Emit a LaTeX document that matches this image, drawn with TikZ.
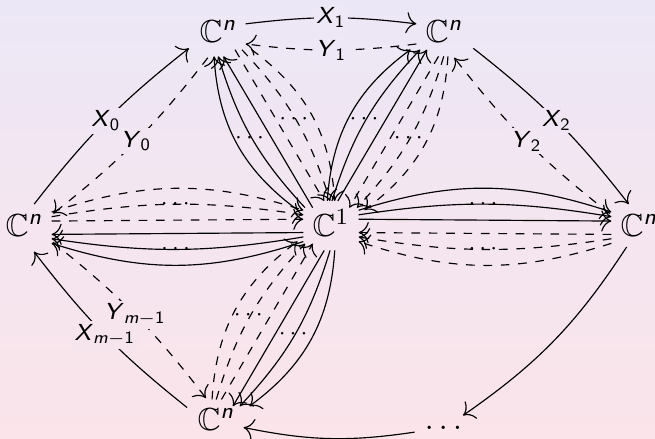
\documentclass[tikz,border=0pt]{standalone}
\usepackage{amsmath,amssymb}
\usetikzlibrary{arrows.meta}
\definecolor{bgtop}{RGB}{236,231,246}
\definecolor{bgbot}{RGB}{251,228,234}
\newcommand{\sfi}[1]{\textsf{\textit{#1}}}
\begin{document}
\begin{tikzpicture}[x=0.345pt,y=-0.345pt,
  vx/.style={anchor=base, font=\fontsize{11}{13}\selectfont, inner xsep=3pt, inner ysep=1.6pt, text depth=2pt},
  lab/.style={font=\fontsize{8}{9.6}\selectfont, inner sep=1pt, fill=bgtop!#1!bgbot},
  dd/.style={font=\fontsize{8}{9.6}\selectfont, inner sep=0pt},
  ar/.style={-{Computer Modern Rightarrow[scale=1.4]}},
  da/.style={ar, dashed},
  sh/.style={transform canvas={shift={(#1:2.3pt)}}}]
\shade[top color=bgtop, bottom color=bgbot] (0,0) rectangle (655,438);
\useasboundingbox (0,0) rectangle (655,438);
% vertices
\node[vx] (c)  at (331,236) {$\mathbb{C}^1$};
\node[vx] (tl) at (218,42)  {$\mathbb{C}^{\sfi{n}}$};
\node[vx] (tr) at (444,42)  {$\mathbb{C}^{\sfi{n}}$};
\node[vx] (l)  at (24,236)  {$\mathbb{C}^{\sfi{n}}$};
\node[vx] (r)  at (639,236) {$\mathbb{C}^{\sfi{n}}$};
\node[vx] (b)  at (216,430) {$\mathbb{C}^{\sfi{n}}$};
\node[anchor=base, font=\fontsize{11}{13}\selectfont] (dots) at (446,429) {$\dots$};
% spokes: top left
\draw[ar, sh=210.2] (c) to (tl);
\draw[ar, sh=210.2] (c) to[bend left=13] node[dd]{$\cdots$} (tl);
\draw[ar, sh=210.2] (c) to[bend left=25] (tl);
\draw[da, sh=30.2] (tl) to (c);
\draw[da, sh=30.2] (tl) to[bend left=13] node[dd]{$\cdots$} (c);
\draw[da, sh=30.2] (tl) to[bend left=25] (c);
% spokes: top right
\draw[ar, sh=149.8] (c) to (tr);
\draw[ar, sh=149.8] (c) to[bend left=13] node[dd]{$\cdots$} (tr);
\draw[ar, sh=149.8] (c) to[bend left=25] (tr);
\draw[da, sh=-30.2] (tr) to (c);
\draw[da, sh=-30.2] (tr) to[bend left=13] node[dd]{$\cdots$} (c);
\draw[da, sh=-30.2] (tr) to[bend left=25] (c);
% spokes: left
\draw[ar, sh=270] (c) to (l);
\draw[ar, sh=270] (c) to[bend left=9] node[dd]{$\cdots$} (l);
\draw[ar, sh=270] (c) to[bend left=18] (l);
\draw[da, sh=90] (l) to (c);
\draw[da, sh=90] (l) to[bend left=9] node[dd]{$\cdots$} (c);
\draw[da, sh=90] (l) to[bend left=18] (c);
% spokes: right
\draw[ar, sh=90] (c) to (r);
\draw[ar, sh=90] (c) to[bend left=9] node[dd]{$\cdots$} (r);
\draw[ar, sh=90] (c) to[bend left=18] (r);
\draw[da, sh=270] (r) to (c);
\draw[da, sh=270] (r) to[bend left=9] node[dd]{$\cdots$} (c);
\draw[da, sh=270] (r) to[bend left=18] (c);
% spokes: bottom
\draw[ar, sh=329.45] (c) to (b);
\draw[ar, sh=329.45] (c) to[bend left=13] node[dd]{$\cdots$} (b);
\draw[ar, sh=329.45] (c) to[bend left=25] (b);
\draw[da, sh=149.45] (b) to (c);
\draw[da, sh=149.45] (b) to[bend left=13] node[dd]{$\cdots$} (c);
\draw[da, sh=149.45] (b) to[bend left=25] (c);
% ring
\draw[ar, sh=135] (l) to[bend left=7] node[lab=73]{$\sfi{X}_{\textsf{0}}$} (tl);
\draw[da, sh=-45] (tl) to[bend left=7] node[lab=68]{$\sfi{Y}_{\textsf{0}}$} (l);
\draw[ar, sh=90] (tl) to[bend left=7] node[lab=96]{$\sfi{X}_{\textsf{1}}$} (tr);
\draw[da, sh=270] (tr) to[bend left=7] node[lab=89]{$\sfi{Y}_{\textsf{1}}$} (tl);
\draw[ar, sh=45] (tr) to[bend left=7] node[lab=73]{$\sfi{X}_{\textsf{2}}$} (r);
\draw[da, sh=225] (r) to[bend left=7] node[lab=68]{$\sfi{Y}_{\textsf{2}}$} (tr);
\draw[ar, sh=225] (b) to[bend left=7] node[lab=24]{$\sfi{X}_{\sfi{m}-\textsf{1}}$} (l);
\draw[da, sh=45] (l) to[bend left=7] node[lab=29]{$\sfi{Y}_{\sfi{m}-\textsf{1}}$} (b);
\draw[ar] (r) to[bend left=11] (dots);
\draw[ar] (dots) to[bend left=10] (b);
\end{tikzpicture}
\end{document}
